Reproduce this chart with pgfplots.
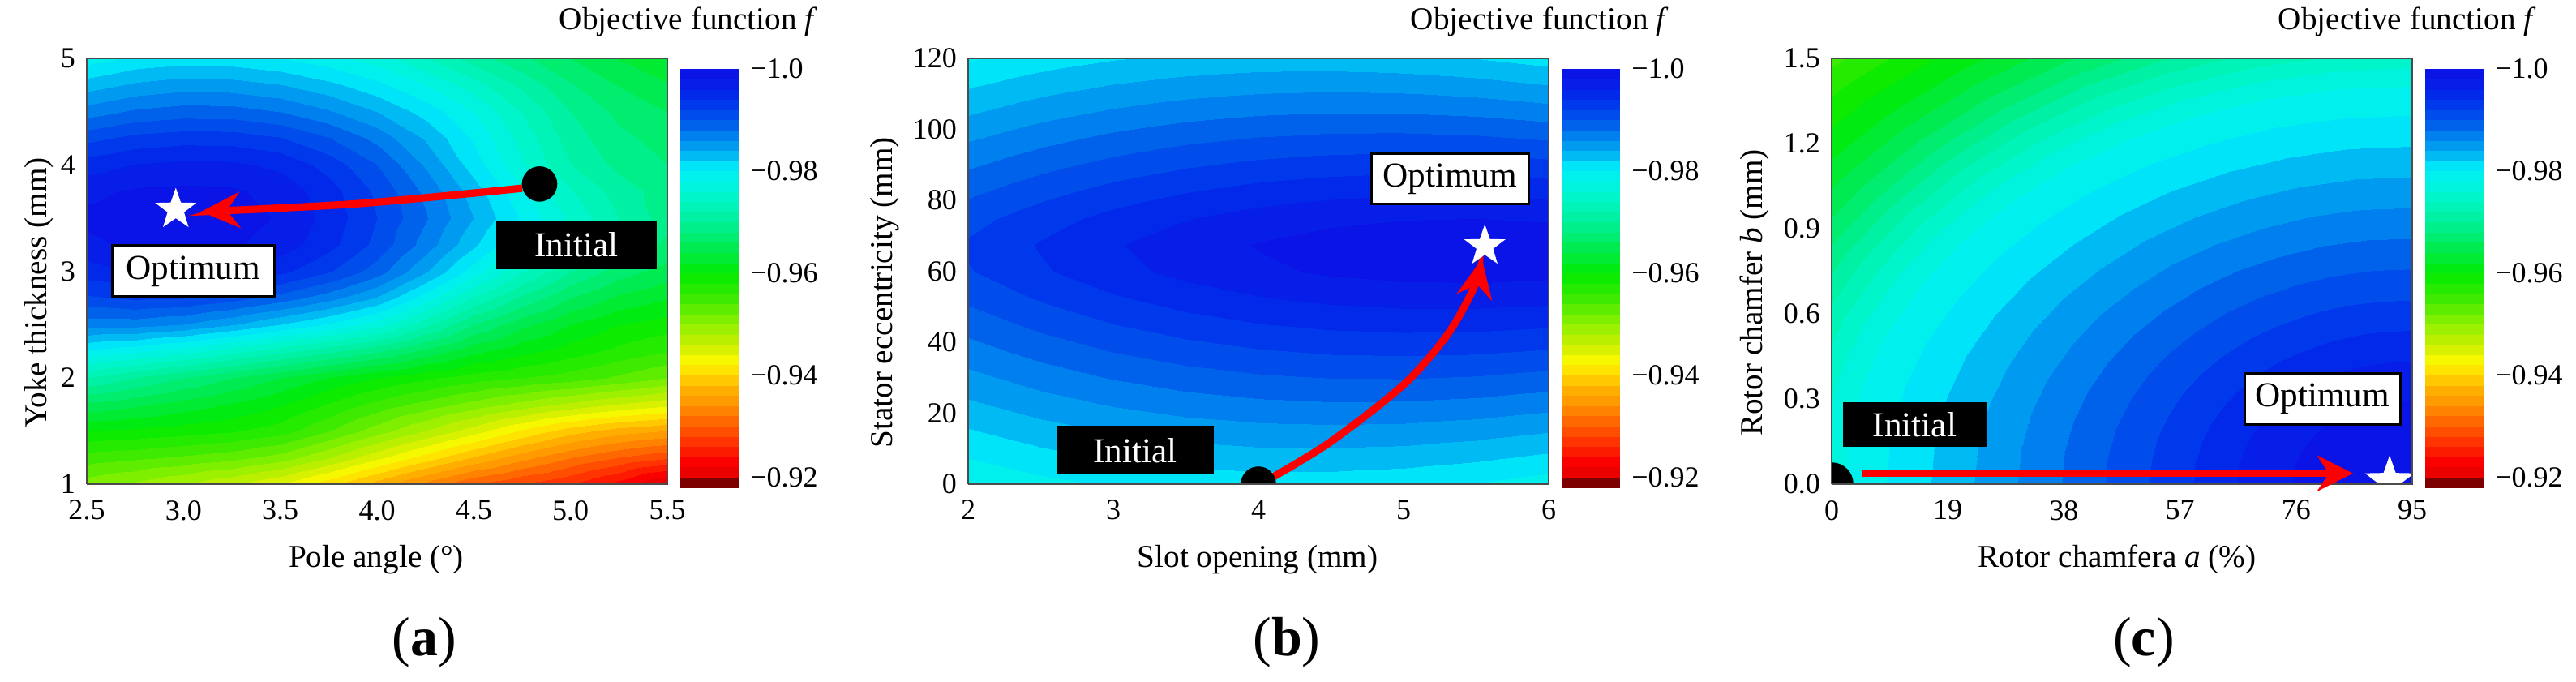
\documentclass[border=0pt]{standalone}
\usepackage{fontspec}
\setmainfont{Liberation Serif}
\usepackage{pgfplots}
\pgfplotsset{compat=1.18}
\usetikzlibrary{arrows.meta}

% filled five-point star
\pgfdeclareplotmark{fstar}{%
  \pgfpathmoveto{\pgfpointpolar{90}{\pgfplotmarksize}}%
  \pgfpathlineto{\pgfpointpolar{126}{0.4\pgfplotmarksize}}%
  \pgfpathlineto{\pgfpointpolar{162}{\pgfplotmarksize}}%
  \pgfpathlineto{\pgfpointpolar{198}{0.4\pgfplotmarksize}}%
  \pgfpathlineto{\pgfpointpolar{234}{\pgfplotmarksize}}%
  \pgfpathlineto{\pgfpointpolar{270}{0.4\pgfplotmarksize}}%
  \pgfpathlineto{\pgfpointpolar{306}{\pgfplotmarksize}}%
  \pgfpathlineto{\pgfpointpolar{342}{0.4\pgfplotmarksize}}%
  \pgfpathlineto{\pgfpointpolar{18}{\pgfplotmarksize}}%
  \pgfpathlineto{\pgfpointpolar{54}{0.4\pgfplotmarksize}}%
  \pgfpathclose\pgfusepathqfill}

\tikzset{
  okbox/.style={draw=black, fill=white, line width=0.8pt, inner sep=0pt,
    font=\fontsize{10.8}{12}\selectfont},
  inbox/.style={fill=black, text=white, inner sep=0pt,
    font=\fontsize{10.8}{12}\selectfont},
  arr/.style={red, line width=2.3pt, -{Stealth[length=12pt,width=11pt,inset=4pt]}},
}

\pgfplotsset{
  colormap={fjet}{rgb255(0pt)=(10,20,230); rgb255(5pt)=(0,45,235); rgb255(10pt)=(0,95,235);
    rgb255(14pt)=(0,150,240); rgb255(17pt)=(0,195,245); rgb255(19pt)=(0,240,250);
    rgb255(25pt)=(0,245,200); rgb255(30pt)=(0,240,150); rgb255(35pt)=(0,235,80);
    rgb255(40pt)=(0,235,0); rgb255(45pt)=(60,235,0); rgb255(50pt)=(140,240,0);
    rgb255(55pt)=(210,240,0); rgb255(58pt)=(255,250,0); rgb255(60pt)=(255,220,0);
    rgb255(63pt)=(255,180,0); rgb255(67pt)=(255,140,0); rgb255(70pt)=(255,100,0);
    rgb255(74pt)=(255,50,0); rgb255(78pt)=(250,0,0); rgb255(80pt)=(235,0,0);
    rgb255(81pt)=(125,0,0); rgb255(82pt)=(125,0,0)},
  panel/.style={
    view={0}{90},
    scale only axis, width=179pt, height=131.25pt,
    anchor=south west,
    colormap name=fjet,
    point meta min=-1, point meta max=-0.918,
    enlargelimits=false,
    axis on top,
    ztick=\empty,
    major tick length=0pt,
    axis line style={draw=black!70, line width=0.5pt},
    ticklabel style={font=\fontsize{9}{10}\selectfont},
    xticklabel style={yshift=-1.5pt},
    clip marker paths=true,
    colorbar,
    colorbar style={
      at={(parent axis.north east)}, anchor=north west,
      xshift=-4.5pt, yshift=-3.25pt,
      scale only axis, width=18pt, height=129pt,
      y dir=reverse,
      ytick={-1,-0.98,-0.96,-0.94,-0.92},
      yticklabels={−1.0,−0.98,−0.96,−0.94,−0.92},
      yticklabel style={font=\fontsize{9}{10}\selectfont},
      major tick length=0pt,
      axis line style={draw=none},
    },
  },
}

\begin{document}
\begin{tikzpicture}
\useasboundingbox (0,0) rectangle (794.25pt,210pt);

% ---------------- (a) ----------------
\begin{axis}[panel, at={(26.75pt,60.75pt)},
  xmin=2.5, xmax=5.5, ymin=1, ymax=5,
  xtick={2.5,3,3.5,4,4.5,5,5.5}, xticklabels={2.5,3.0,3.5,4.0,4.5,5.0,5.5},
  ytick={1,2,3,4,5}, yticklabels={1,2,3,4,5}]
\addplot3[contour filled={number=41}, mesh/rows=17, mesh/cols=13] table[row sep=\\] {
x y f\\
2.5 1 -0.9510\\ 2.75 1 -0.9496\\ 3 1 -0.9480\\ 3.25 1 -0.9462\\ 3.5 1 -0.9440\\ 3.75 1 -0.9407\\ 4 1 -0.9370\\ 4.25 1 -0.9333\\ 4.5 1 -0.9300\\ 4.75 1 -0.9279\\ 5 1 -0.9260\\ 5.25 1 -0.9232\\ 5.5 1 -0.9195\\
2.5 1.25 -0.9551\\ 2.75 1.25 -0.9545\\ 3 1.25 -0.9537\\ 3.25 1.25 -0.9528\\ 3.5 1.25 -0.9512\\ 3.75 1.25 -0.9482\\ 4 1.25 -0.9446\\ 4.25 1.25 -0.9412\\ 4.5 1.25 -0.9379\\ 4.75 1.25 -0.9348\\ 5 1.25 -0.9321\\ 5.25 1.25 -0.9300\\ 5.5 1.25 -0.9284\\
2.5 1.5 -0.9600\\ 2.75 1.5 -0.9596\\ 3 1.5 -0.9590\\ 3.25 1.5 -0.9583\\ 3.5 1.5 -0.9570\\ 3.75 1.5 -0.9542\\ 4 1.5 -0.9510\\ 4.25 1.5 -0.9480\\ 4.5 1.5 -0.9450\\ 4.75 1.5 -0.9418\\ 5 1.5 -0.9390\\ 5.25 1.5 -0.9371\\ 5.5 1.5 -0.9360\\
2.5 1.75 -0.9656\\ 2.75 1.75 -0.9644\\ 3 1.75 -0.9631\\ 3.25 1.75 -0.9618\\ 3.5 1.75 -0.9602\\ 3.75 1.75 -0.9578\\ 4 1.75 -0.9553\\ 4.25 1.75 -0.9532\\ 4.5 1.75 -0.9512\\ 4.75 1.75 -0.9492\\ 5 1.75 -0.9474\\ 5.25 1.75 -0.9458\\ 5.5 1.75 -0.9445\\
2.5 2 -0.9720\\ 2.75 2 -0.9700\\ 3 2 -0.9680\\ 3.25 2 -0.9660\\ 3.5 2 -0.9640\\ 3.75 2 -0.9619\\ 4 2 -0.9600\\ 4.25 2 -0.9584\\ 4.5 2 -0.9570\\ 4.75 2 -0.9560\\ 5 2 -0.9550\\ 5.25 2 -0.9536\\ 5.5 2 -0.9520\\
2.5 2.25 -0.9797\\ 2.75 2.25 -0.9785\\ 3 2.25 -0.9769\\ 3.25 2.25 -0.9748\\ 3.5 2.25 -0.9727\\ 3.75 2.25 -0.9706\\ 4 2.25 -0.9683\\ 4.25 2.25 -0.9654\\ 4.5 2.25 -0.9626\\ 4.75 2.25 -0.9606\\ 5 2.25 -0.9590\\ 5.25 2.25 -0.9574\\ 5.5 2.25 -0.9561\\
2.5 2.5 -0.9870\\ 2.75 2.5 -0.9869\\ 3 2.5 -0.9860\\ 3.25 2.5 -0.9842\\ 3.5 2.5 -0.9820\\ 3.75 2.5 -0.9798\\ 4 2.5 -0.9770\\ 4.25 2.5 -0.9726\\ 4.5 2.5 -0.9680\\ 4.75 2.5 -0.9646\\ 5 2.5 -0.9620\\ 5.25 2.5 -0.9601\\ 5.5 2.5 -0.9590\\
2.5 2.75 -0.9917\\ 2.75 2.75 -0.9924\\ 3 2.75 -0.9922\\ 3.25 2.75 -0.9910\\ 3.5 2.75 -0.9892\\ 3.75 2.75 -0.9869\\ 4 2.75 -0.9839\\ 4.25 2.75 -0.9790\\ 4.5 2.75 -0.9739\\ 4.75 2.75 -0.9696\\ 5 2.75 -0.9661\\ 5.25 2.75 -0.9636\\ 5.5 2.75 -0.9622\\
2.5 3 -0.9950\\ 2.75 3 -0.9962\\ 3 3 -0.9965\\ 3.25 3 -0.9959\\ 3.5 3 -0.9945\\ 3.75 3 -0.9922\\ 4 3 -0.9890\\ 4.25 3 -0.9842\\ 4.5 3 -0.9790\\ 4.75 3 -0.9742\\ 5 3 -0.9700\\ 5.25 3 -0.9670\\ 5.5 3 -0.9650\\
2.5 3.25 -0.9975\\ 2.75 3.25 -0.9984\\ 3 3.25 -0.9987\\ 3.25 3.25 -0.9983\\ 3.5 3.25 -0.9971\\ 3.75 3.25 -0.9947\\ 4 3.25 -0.9914\\ 4.25 3.25 -0.9871\\ 4.5 3.25 -0.9824\\ 4.75 3.25 -0.9778\\ 5 3.25 -0.9735\\ 5.25 3.25 -0.9701\\ 5.5 3.25 -0.9674\\
2.5 3.5 -0.9985\\ 2.75 3.5 -0.9991\\ 3 3.5 -0.9992\\ 3.25 3.5 -0.9989\\ 3.5 3.5 -0.9978\\ 3.75 3.5 -0.9953\\ 4 3.5 -0.9920\\ 4.25 3.5 -0.9882\\ 4.5 3.5 -0.9840\\ 4.75 3.5 -0.9797\\ 5 3.5 -0.9755\\ 5.25 3.5 -0.9720\\ 5.5 3.5 -0.9690\\
2.5 3.75 -0.9975\\ 2.75 3.75 -0.9983\\ 3 3.75 -0.9985\\ 3.25 3.75 -0.9983\\ 3.5 3.75 -0.9973\\ 3.75 3.75 -0.9949\\ 4 3.75 -0.9916\\ 4.25 3.75 -0.9875\\ 4.5 3.75 -0.9830\\ 4.75 3.75 -0.9784\\ 5 3.75 -0.9742\\ 5.25 3.75 -0.9711\\ 5.5 3.75 -0.9689\\
2.5 4 -0.9950\\ 2.75 4 -0.9961\\ 3 4 -0.9965\\ 3.25 4 -0.9964\\ 3.5 4 -0.9955\\ 3.75 4 -0.9932\\ 4 4 -0.9900\\ 4.25 4 -0.9857\\ 4.5 4 -0.9810\\ 4.75 4 -0.9762\\ 5 4 -0.9720\\ 5.25 4 -0.9694\\ 5.5 4 -0.9680\\
2.5 4.25 -0.9913\\ 2.75 4.25 -0.9926\\ 3 4.25 -0.9931\\ 3.25 4.25 -0.9930\\ 3.5 4.25 -0.9921\\ 3.75 4.25 -0.9901\\ 4 4.25 -0.9873\\ 4.25 4.25 -0.9837\\ 4.5 4.25 -0.9797\\ 4.75 4.25 -0.9752\\ 5 4.25 -0.9710\\ 5.25 4.25 -0.9685\\ 5.5 4.25 -0.9672\\
2.5 4.5 -0.9870\\ 2.75 4.5 -0.9884\\ 3 4.5 -0.9890\\ 3.25 4.5 -0.9889\\ 3.5 4.5 -0.9880\\ 3.75 4.5 -0.9863\\ 4 4.5 -0.9840\\ 4.25 4.5 -0.9812\\ 4.5 4.5 -0.9780\\ 4.75 4.5 -0.9739\\ 5 4.5 -0.9700\\ 5.25 4.5 -0.9675\\ 5.5 4.5 -0.9660\\
2.5 4.75 -0.9830\\ 2.75 4.75 -0.9844\\ 3 4.75 -0.9851\\ 3.25 4.75 -0.9849\\ 3.5 4.75 -0.9841\\ 3.75 4.75 -0.9826\\ 4 4.75 -0.9806\\ 4.25 4.75 -0.9780\\ 4.5 4.75 -0.9750\\ 4.75 4.75 -0.9715\\ 5 4.75 -0.9682\\ 5.25 4.75 -0.9659\\ 5.5 4.75 -0.9642\\
2.5 5 -0.9790\\ 2.75 5 -0.9804\\ 3 5 -0.9810\\ 3.25 5 -0.9808\\ 3.5 5 -0.9800\\ 3.75 5 -0.9788\\ 4 5 -0.9770\\ 4.25 5 -0.9741\\ 4.5 5 -0.9710\\ 4.75 5 -0.9684\\ 5 5 -0.9660\\ 5.25 5 -0.9639\\ 5.5 5 -0.9620\\
};
\addplot3[arr, smooth] coordinates {(4.75,3.78,-1) (3.9,3.635,-1) (3.09,3.56,-1)};
\addplot3[only marks, mark=*, mark size=5.25pt, black] coordinates {(4.84,3.82,-1)};
\addplot3[only marks, mark=fstar, mark size=6.7pt, white] coordinates {(2.96,3.58,-1)};
\node[okbox, minimum width=50pt, minimum height=15.75pt] at (axis cs:3.05,3.0,-1) {Optimum};
\node[inbox, minimum width=49.5pt, minimum height=15pt] at (axis cs:5.03,3.25,-1) {Initial};
\end{axis}

% ---------------- (b) ----------------
\begin{axis}[panel, at={(298.5pt,60.75pt)},
  xmin=2, xmax=6, ymin=0, ymax=120,
  xtick={2,3,4,5,6}, xticklabels={2,3,4,5,6},
  ytick={0,20,40,60,80,100,120}, yticklabels={0,20,40,60,80,100,120}]
\addplot3[contour filled={number=41}, mesh/rows=17, mesh/cols=9] table[row sep=\\] {
x y f\\
2 0 -0.97828\\ 2.5 0 -0.97940\\ 3 0 -0.98022\\ 3.5 0 -0.98075\\ 4 0 -0.98098\\ 4.5 0 -0.98092\\ 5 0 -0.98057\\ 5.5 0 -0.97993\\ 6 0 -0.97899\\
2 7.5 -0.98007\\ 2.5 7.5 -0.98129\\ 3 7.5 -0.98221\\ 3.5 7.5 -0.98284\\ 4 7.5 -0.98317\\ 4.5 7.5 -0.98322\\ 5 7.5 -0.98297\\ 5.5 7.5 -0.98242\\ 6 7.5 -0.98159\\
2 15 -0.98185\\ 2.5 15 -0.98317\\ 3 15 -0.98419\\ 3.5 15 -0.98492\\ 4 15 -0.98535\\ 4.5 15 -0.98550\\ 5 15 -0.98535\\ 5.5 15 -0.98490\\ 6 15 -0.98417\\
2 22.5 -0.98362\\ 2.5 22.5 -0.98504\\ 3 22.5 -0.98616\\ 3.5 22.5 -0.98699\\ 4 22.5 -0.98752\\ 4.5 22.5 -0.98777\\ 5 22.5 -0.98771\\ 5.5 22.5 -0.98737\\ 6 22.5 -0.98673\\
2 30 -0.98539\\ 2.5 30 -0.98691\\ 3 30 -0.98813\\ 3.5 30 -0.98906\\ 4 30 -0.98969\\ 4.5 30 -0.99003\\ 5 30 -0.99008\\ 5.5 30 -0.98984\\ 6 30 -0.98930\\
2 37.5 -0.98714\\ 2.5 37.5 -0.98876\\ 3 37.5 -0.99008\\ 3.5 37.5 -0.99110\\ 4 37.5 -0.99183\\ 4.5 37.5 -0.99227\\ 5 37.5 -0.99242\\ 5.5 37.5 -0.99228\\ 6 37.5 -0.99184\\
2 45 -0.98885\\ 2.5 45 -0.99057\\ 3 45 -0.99198\\ 3.5 45 -0.99310\\ 4 45 -0.99393\\ 4.5 45 -0.99446\\ 5 45 -0.99471\\ 5.5 45 -0.99466\\ 6 45 -0.99432\\
2 52.5 -0.99047\\ 2.5 52.5 -0.99228\\ 3 52.5 -0.99378\\ 3.5 52.5 -0.99500\\ 4 52.5 -0.99591\\ 4.5 52.5 -0.99654\\ 5 52.5 -0.99688\\ 5.5 52.5 -0.99692\\ 6 52.5 -0.99667\\
2 60 -0.99184\\ 2.5 60 -0.99372\\ 3 60 -0.99531\\ 3.5 60 -0.99660\\ 4 60 -0.99759\\ 4.5 60 -0.99830\\ 5 60 -0.99871\\ 5.5 60 -0.99883\\ 6 60 -0.99865\\
2 67.5 -0.99228\\ 2.5 67.5 -0.99419\\ 3 67.5 -0.99580\\ 3.5 67.5 -0.99711\\ 4 67.5 -0.99813\\ 4.5 67.5 -0.99886\\ 5 67.5 -0.99930\\ 5.5 67.5 -0.99944\\ 6 67.5 -0.99929\\
2 75 -0.99123\\ 2.5 75 -0.99308\\ 3 75 -0.99463\\ 3.5 75 -0.99589\\ 4 75 -0.99684\\ 4.5 75 -0.99751\\ 5 75 -0.99789\\ 5.5 75 -0.99798\\ 6 75 -0.99777\\
2 82.5 -0.98953\\ 2.5 82.5 -0.99128\\ 3 82.5 -0.99274\\ 3.5 82.5 -0.99390\\ 4 82.5 -0.99476\\ 4.5 82.5 -0.99534\\ 5 82.5 -0.99562\\ 5.5 82.5 -0.99561\\ 6 82.5 -0.99530\\
2 90 -0.98765\\ 2.5 90 -0.98930\\ 3 90 -0.99064\\ 3.5 90 -0.99170\\ 4 90 -0.99246\\ 4.5 90 -0.99293\\ 5 90 -0.99310\\ 5.5 90 -0.99299\\ 6 90 -0.99258\\
2 97.5 -0.98570\\ 2.5 97.5 -0.98724\\ 3 97.5 -0.98848\\ 3.5 97.5 -0.98942\\ 4 97.5 -0.99007\\ 4.5 97.5 -0.99043\\ 5 97.5 -0.99050\\ 5.5 97.5 -0.99027\\ 6 97.5 -0.98975\\
2 105 -0.98373\\ 2.5 105 -0.98516\\ 3 105 -0.98628\\ 3.5 105 -0.98712\\ 4 105 -0.98766\\ 4.5 105 -0.98791\\ 5 105 -0.98786\\ 5.5 105 -0.98753\\ 6 105 -0.98689\\
2 112.5 -0.98174\\ 2.5 112.5 -0.98306\\ 3 112.5 -0.98407\\ 3.5 112.5 -0.98479\\ 4 112.5 -0.98522\\ 4.5 112.5 -0.98536\\ 5 112.5 -0.98520\\ 5.5 112.5 -0.98475\\ 6 112.5 -0.98401\\
2 120 -0.97974\\ 2.5 120 -0.98095\\ 3 120 -0.98184\\ 3.5 120 -0.98245\\ 4 120 -0.98277\\ 4.5 120 -0.98279\\ 5 120 -0.98252\\ 5.5 120 -0.98196\\ 6 120 -0.98111\\
};
\addplot3[arr, smooth] coordinates {(4.1,2,-1) (4.5,12,-1) (5.0,28,-1) (5.3,42,-1) (5.48,55,-1) (5.54,63.5,-1)};
\addplot3[only marks, mark=*, mark size=5.25pt, black] coordinates {(4.0,0,-1)};
\addplot3[only marks, mark=fstar, mark size=6.7pt, white] coordinates {(5.56,67.1,-1)};
\node[okbox, minimum width=48.5pt, minimum height=15.5pt] at (axis cs:5.32,86,-1) {Optimum};
\node[inbox, minimum width=48.5pt, minimum height=15pt] at (axis cs:3.15,9.5,-1) {Initial};
\end{axis}

% ---------------- (c) ----------------
% samples taken along elliptic rings round the optimum corner (95,0)
\begin{axis}[panel, at={(564.75pt,60.75pt)},
  xmin=0, xmax=95, ymin=0, ymax=1.5,
  xtick={0,19,38,57,76,95}, xticklabels={0,19,38,57,76,95},
  ytick={0,0.3,0.6,0.9,1.2,1.5}, yticklabels={0.0,0.3,0.6,0.9,1.2,1.5}]
\addplot3[contour filled={number=41}, mesh/rows=18, mesh/cols=13] table[row sep=\\] {
x y f\\
95 0 -0.9997\\ 95 0 -0.9997\\ 95 0 -0.9997\\ 95 0 -0.9997\\ 95 0 -0.9997\\ 95 0 -0.9997\\ 95 0 -0.9997\\ 95 0 -0.9997\\ 95 0 -0.9997\\ 95 0 -0.9997\\ 95 0 -0.9997\\ 95 0 -0.9997\\ 95 0 -0.9997\\
86.40 0 -0.9993\\ 86.47 0.017 -0.9993\\ 86.69 0.034 -0.9993\\ 87.05 0.050 -0.9993\\ 87.55 0.065 -0.9993\\ 88.18 0.079 -0.9993\\ 88.92 0.092 -0.9993\\ 89.76 0.103 -0.9993\\ 90.70 0.113 -0.9993\\ 91.71 0.120 -0.9993\\ 92.77 0.126 -0.9993\\ 93.88 0.129 -0.9993\\ 95 0.130 -0.9993\\
77.80 0 -0.9985\\ 77.95 0.034 -0.9985\\ 78.39 0.067 -0.9985\\ 79.11 0.099 -0.9985\\ 80.10 0.130 -0.9985\\ 81.35 0.158 -0.9985\\ 82.84 0.184 -0.9985\\ 84.53 0.206 -0.9985\\ 86.40 0.225 -0.9985\\ 88.42 0.240 -0.9985\\ 90.55 0.251 -0.9985\\ 92.75 0.258 -0.9985\\ 95 0.260 -0.9985\\
69.20 0 -0.9968\\ 69.42 0.051 -0.9968\\ 70.08 0.101 -0.9968\\ 71.16 0.149 -0.9968\\ 72.66 0.195 -0.9968\\ 74.53 0.237 -0.9968\\ 76.76 0.276 -0.9968\\ 79.29 0.309 -0.9968\\ 82.10 0.338 -0.9968\\ 85.13 0.360 -0.9968\\ 88.32 0.377 -0.9968\\ 91.63 0.387 -0.9968\\ 95 0.390 -0.9968\\
60.60 0 -0.9944\\ 60.89 0.068 -0.9944\\ 61.77 0.135 -0.9944\\ 63.22 0.199 -0.9944\\ 65.21 0.260 -0.9944\\ 67.71 0.317 -0.9944\\ 70.68 0.368 -0.9944\\ 74.06 0.413 -0.9944\\ 77.80 0.450 -0.9944\\ 81.84 0.480 -0.9944\\ 86.10 0.502 -0.9944\\ 90.51 0.516 -0.9944\\ 95 0.520 -0.9944\\
52.00 0 -0.9920\\ 52.37 0.085 -0.9920\\ 53.47 0.168 -0.9920\\ 55.27 0.249 -0.9920\\ 57.76 0.325 -0.9920\\ 60.89 0.396 -0.9920\\ 64.59 0.460 -0.9920\\ 68.82 0.516 -0.9920\\ 73.50 0.563 -0.9920\\ 78.55 0.601 -0.9920\\ 83.87 0.628 -0.9920\\ 89.39 0.644 -0.9920\\ 95 0.650 -0.9920\\
43.40 0 -0.9896\\ 43.84 0.102 -0.9896\\ 45.16 0.202 -0.9896\\ 47.33 0.298 -0.9896\\ 50.31 0.390 -0.9896\\ 54.06 0.475 -0.9896\\ 58.51 0.552 -0.9896\\ 63.59 0.619 -0.9896\\ 69.20 0.676 -0.9896\\ 75.25 0.721 -0.9896\\ 81.65 0.753 -0.9896\\ 88.26 0.773 -0.9896\\ 95 0.780 -0.9896\\
34.80 0 -0.9872\\ 35.32 0.119 -0.9872\\ 36.85 0.236 -0.9872\\ 39.38 0.348 -0.9872\\ 42.87 0.455 -0.9872\\ 47.24 0.554 -0.9872\\ 52.43 0.643 -0.9872\\ 58.35 0.722 -0.9872\\ 64.90 0.788 -0.9872\\ 71.96 0.841 -0.9872\\ 79.42 0.879 -0.9872\\ 87.14 0.902 -0.9872\\ 95 0.910 -0.9872\\
26.20 0 -0.9848\\ 26.79 0.136 -0.9848\\ 28.54 0.269 -0.9848\\ 31.44 0.398 -0.9848\\ 35.42 0.520 -0.9848\\ 40.42 0.633 -0.9848\\ 46.35 0.735 -0.9848\\ 53.12 0.825 -0.9848\\ 60.60 0.901 -0.9848\\ 68.67 0.961 -0.9848\\ 77.19 1.005 -0.9848\\ 86.02 1.031 -0.9848\\ 95 1.040 -0.9848\\
17.60 0 -0.9824\\ 18.26 0.153 -0.9824\\ 20.24 0.303 -0.9824\\ 23.49 0.448 -0.9824\\ 27.97 0.585 -0.9824\\ 33.60 0.712 -0.9824\\ 40.27 0.827 -0.9824\\ 47.88 0.928 -0.9824\\ 56.30 1.013 -0.9824\\ 65.38 1.081 -0.9824\\ 74.97 1.130 -0.9824\\ 84.90 1.160 -0.9824\\ 95 1.170 -0.9824\\
9.00 0 -0.9800\\ 9.74 0.170 -0.9800\\ 11.93 0.336 -0.9800\\ 15.55 0.497 -0.9800\\ 20.52 0.650 -0.9800\\ 26.77 0.791 -0.9800\\ 34.19 0.919 -0.9800\\ 42.65 1.031 -0.9800\\ 52.00 1.126 -0.9800\\ 62.09 1.201 -0.9800\\ 72.74 1.256 -0.9800\\ 83.77 1.289 -0.9800\\ 95 1.300 -0.9800\\
0.40 0 -0.9775\\ 1.21 0.187 -0.9775\\ 3.62 0.370 -0.9775\\ 7.60 0.547 -0.9775\\ 13.07 0.715 -0.9775\\ 19.95 0.871 -0.9775\\ 28.11 1.011 -0.9775\\ 37.41 1.134 -0.9775\\ 47.70 1.238 -0.9775\\ 58.80 1.321 -0.9775\\ 70.52 1.381 -0.9775\\ 82.65 1.418 -0.9775\\ 95 1.430 -0.9775\\
-8.20 0 -0.9725\\ -7.32 0.204 -0.9725\\ -4.68 0.404 -0.9725\\ -0.35 0.597 -0.9725\\ 5.63 0.780 -0.9725\\ 13.13 0.950 -0.9725\\ 22.03 1.103 -0.9725\\ 32.18 1.238 -0.9725\\ 43.40 1.351 -0.9725\\ 55.51 1.441 -0.9725\\ 68.29 1.507 -0.9725\\ 81.53 1.547 -0.9725\\ 95 1.560 -0.9725\\
-16.80 0 -0.9670\\ -15.84 0.221 -0.9670\\ -12.99 0.437 -0.9670\\ -8.29 0.647 -0.9670\\ -1.82 0.845 -0.9670\\ 6.30 1.029 -0.9670\\ 15.95 1.195 -0.9670\\ 26.94 1.341 -0.9670\\ 39.10 1.464 -0.9670\\ 52.22 1.561 -0.9670\\ 66.06 1.632 -0.9670\\ 80.41 1.676 -0.9670\\ 95 1.690 -0.9670\\
-25.40 0 -0.9625\\ -24.37 0.238 -0.9625\\ -21.30 0.471 -0.9625\\ -16.24 0.696 -0.9625\\ -9.27 0.910 -0.9625\\ -0.52 1.108 -0.9625\\ 9.86 1.287 -0.9625\\ 21.71 1.444 -0.9625\\ 34.80 1.576 -0.9625\\ 48.93 1.681 -0.9625\\ 63.84 1.758 -0.9625\\ 79.28 1.804 -0.9625\\ 95 1.820 -0.9625\\
-34.00 0 -0.9590\\ -32.90 0.255 -0.9590\\ -29.61 0.505 -0.9590\\ -24.18 0.746 -0.9590\\ -16.72 0.975 -0.9590\\ -7.34 1.187 -0.9590\\ 3.78 1.379 -0.9590\\ 16.47 1.547 -0.9590\\ 30.50 1.689 -0.9590\\ 45.64 1.802 -0.9590\\ 61.61 1.884 -0.9590\\ 78.16 1.933 -0.9590\\ 95 1.950 -0.9590\\
-42.60 0 -0.9553\\ -41.42 0.272 -0.9553\\ -37.91 0.538 -0.9553\\ -32.13 0.796 -0.9553\\ -24.17 1.040 -0.9553\\ -14.17 1.266 -0.9553\\ -2.30 1.471 -0.9553\\ 11.24 1.650 -0.9553\\ 26.20 1.801 -0.9553\\ 42.34 1.922 -0.9553\\ 59.39 2.009 -0.9553\\ 77.04 2.062 -0.9553\\ 95 2.080 -0.9553\\
-51.20 0 -0.9515\\ -49.95 0.288 -0.9515\\ -46.22 0.572 -0.9515\\ -40.07 0.846 -0.9515\\ -31.61 1.105 -0.9515\\ -20.99 1.345 -0.9515\\ -8.38 1.563 -0.9515\\ 6.00 1.754 -0.9515\\ 21.90 1.914 -0.9515\\ 39.05 2.042 -0.9515\\ 57.16 2.135 -0.9515\\ 75.92 2.191 -0.9515\\ 95 2.210 -0.9515\\
};
\addplot3[only marks, mark=*, mark size=6.5pt, black] coordinates {(0,0,-1)};
\addplot3[only marks, mark=fstar, mark size=8pt, white] coordinates {(91.3,0.01,-1)};
\node[okbox, minimum width=48pt, minimum height=15.75pt] at (axis cs:80.3,0.30,-1) {Optimum};
\node[inbox, minimum width=44.5pt, minimum height=13.75pt] at (axis cs:13.6,0.21,-1) {Initial};
\end{axis}
% arrow of (c), not clipped at the lower edge
\begin{axis}[at={(564.75pt,60.75pt)}, anchor=south west, scale only axis,
  width=179pt, height=131.25pt, xmin=0, xmax=95, ymin=0, ymax=1.5,
  hide axis, clip=false]
\addplot[red, line width=2.3pt, -{Stealth[length=11pt,width=11pt,inset=3.5pt]}] coordinates {(5.1,0.038) (85.3,0.038)};
\end{axis}

% titles and labels
\begin{scope}[every node/.style={font=\fontsize{9.8}{11}\selectfont, anchor=east}]
\node at (255.5pt,203.25pt) {Objective function \textit{f}};
\node at (518pt,203.25pt) {Objective function \textit{f}};
\node at (785.5pt,203.25pt) {Objective function \textit{f}};
\end{scope}
\begin{scope}[every node/.style={font=\fontsize{9.8}{12}\selectfont}]
\node[rotate=90] at (12pt,119.75pt) {Yoke thickness (mm)};
\node[rotate=90] at (272.75pt,119.75pt) {Stator eccentricity (mm)};
\node[rotate=90] at (541pt,119.75pt) {Rotor chamfer \textit{b} (mm)};
\node at (116pt,37.5pt) {Pole angle (°)};
\node at (387.75pt,37.5pt) {Slot opening (mm)};
\node at (652.75pt,37.5pt) {Rotor chamfera \textit{a} (\%)};
\end{scope}
\begin{scope}[every node/.style={font=\fontsize{17}{20}\selectfont}]
\node at (130.75pt,12pt) {(\textbf{a})};
\node at (396.75pt,12pt) {(\textbf{b})};
\node at (661pt,12pt) {(\textbf{c})};
\end{scope}
\end{tikzpicture}
\end{document}
